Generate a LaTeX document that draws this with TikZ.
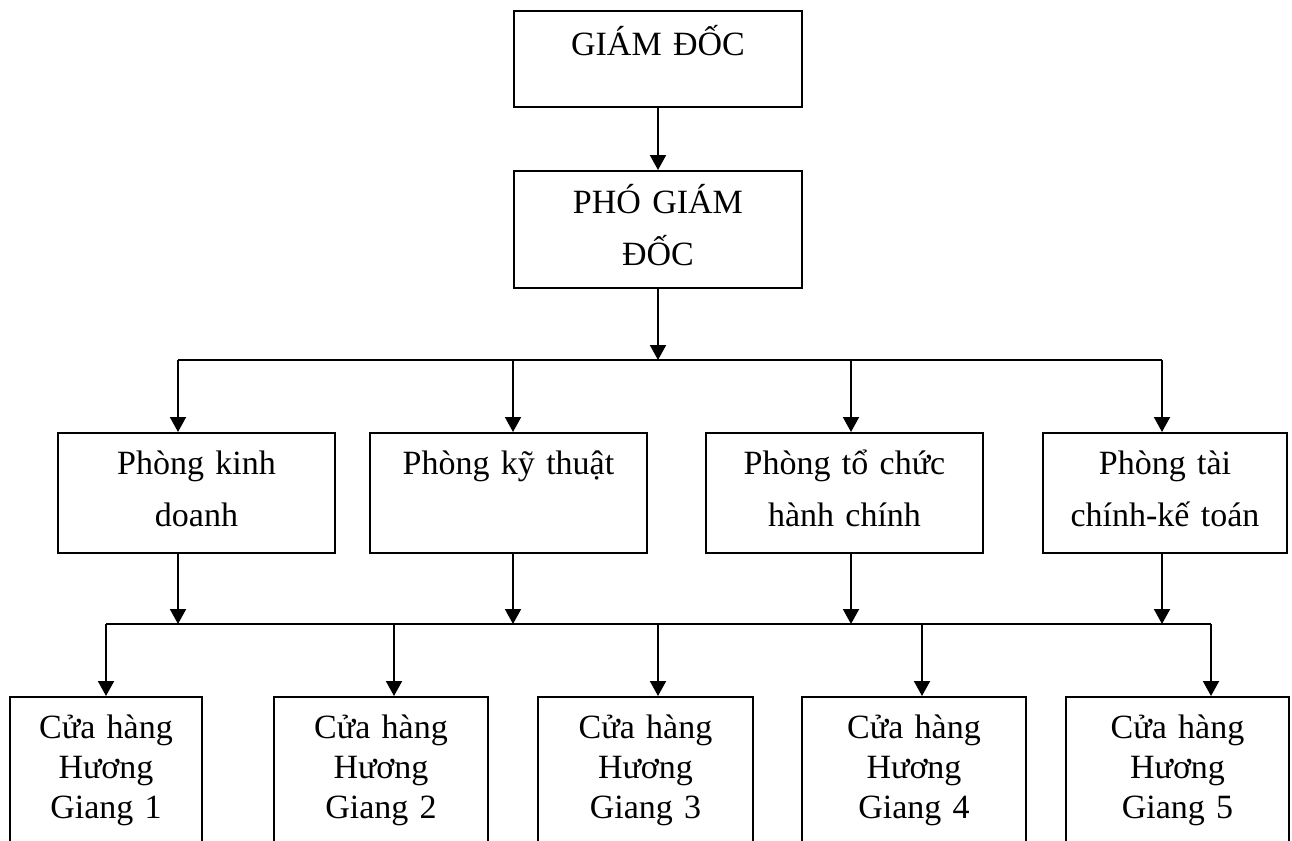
\documentclass[tikz,border=0pt]{standalone}
\usepackage{fontspec}
\setmainfont{Liberation Serif}
\usetikzlibrary{arrows.meta, positioning}

\begin{document}
\begin{tikzpicture}[
    % one unit = one pixel of the layout, y downwards
    x=0.5pt, y=-0.5pt,
    % Styles
    box/.style={rectangle, draw, line width=1pt, inner sep=0pt, anchor=north, align=center, font={\fontsize{17}{26}\selectfont}},
    headbox/.style={box, text width=144pt},
    dept/.style={box, text height=20.5pt, text depth=39.5pt},
    shop/.style={box, font={\fontsize{17}{20}\selectfont}, text height=20.5pt, text depth=75pt},
    line/.style={line width=1pt},
    arrow/.style={line, -{Triangle[width=8pt, length=7.5pt]}}
]
\useasboundingbox (0,0) rectangle (1292,841);
\clip (0,0) rectangle (1292,841);

% --- Management ---
\node[headbox, text height=22pt, text depth=26pt] (gd) at (658,10) {GIÁM ĐỐC};
\node[headbox, text height=21pt, text depth=37.5pt, below = 31pt of gd.south, anchor=north] (pgd) {PHÓ GIÁM\\ĐỐC};
\draw[arrow] (gd) -- (pgd);

% --- Departments ---
\node[dept, text width=138.5pt] (d1) at (196.5,432) {Phòng kinh\\doanh};
\node[dept, text width=138.5pt] (d2) at (508.5,432) {Phòng kỹ thuật};
\node[dept, text width=138.5pt] (d3) at (844.5,432) {Phòng tổ chức\\hành chính};
\node[dept, text width=122pt] (d4) at (1165,432) {Phòng tài\\chính-kế toán};

\coordinate (k1) at (178,360);
\coordinate (k2) at (513,360);
\coordinate (k3) at (851,360);
\coordinate (k4) at (1162,360);
\draw[arrow] (pgd) -- (pgd |- k1);
\draw[line] (k1) -- (k4);
\foreach \i in {1,...,4}
    \draw[arrow] (k\i) -- (k\i |- d\i.north);

% --- Shops ---
\node[shop, text width=96pt] (s1) at (106,696) {Cửa hàng\\Hương\\Giang 1};
\node[shop, text width=107pt] (s2) at (381,696) {Cửa hàng\\Hương\\Giang 2};
\node[shop, text width=107.5pt] (s3) at (645.5,696) {Cửa hàng\\Hương\\Giang 3};
\node[shop, text width=112pt] (s4) at (914,696) {Cửa hàng\\Hương\\Giang 4};
\node[shop, text width=111.5pt] (s5) at (1177.5,696) {Cửa hàng\\Hương\\Giang 5};

\coordinate (bus) at (0,624);
\foreach \i in {1,...,4}
    \draw[arrow] (k\i |- d\i.south) -- (k\i |- bus);

\coordinate (m1) at (106,624);
\coordinate (m2) at (394,624);
\coordinate (m3) at (658,624);
\coordinate (m4) at (922,624);
\coordinate (m5) at (1211,624);
\draw[line] (m1) -- (m5);
\foreach \i in {1,...,5}
    \draw[arrow] (m\i) -- (m\i |- s\i.north);

\end{tikzpicture}
\end{document}
